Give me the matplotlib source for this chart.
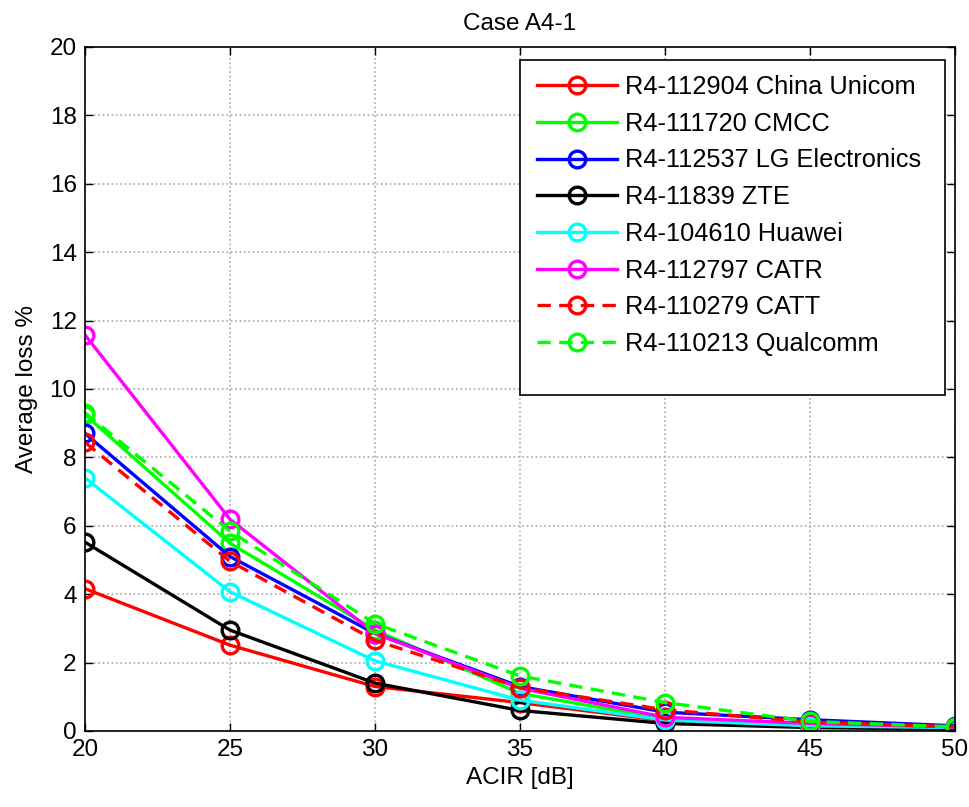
import matplotlib
matplotlib.use('Agg')
import matplotlib.pyplot as plt
from matplotlib.patches import Rectangle

plt.rcParams['font.family'] = ['Liberation Sans', 'DejaVu Sans']

acir = [20, 25, 30, 35, 40, 45, 50]

unicom = [4.16, 2.51, 1.30, 0.83, 0.30, 0.15, 0.08]
cmcc = [9.25, 5.49, 2.95, 1.10, 0.35, 0.20, 0.10]
lg = [8.70, 5.10, 2.85, 1.30, 0.55, 0.33, 0.15]
zte = [5.52, 2.95, 1.40, 0.60, 0.22, 0.10, 0.05]
huawei = [7.40, 4.07, 2.05, 0.90, 0.32, 0.15, 0.10]
catr = [11.58, 6.19, 2.85, 1.25, 0.40, 0.22, 0.12]
catt = [8.44, 4.96, 2.65, 1.27, 0.62, 0.26, 0.12]
qualcomm = [9.30, 5.84, 3.14, 1.61, 0.83, 0.28, 0.12]

series = [
    (unicom, '#ff0000', '-', 'R4-112904 China Unicom'),
    (cmcc, '#00ff00', '-', 'R4-111720 CMCC'),
    (lg, '#0000ff', '-', 'R4-112537 LG Electronics'),
    (zte, '#000000', '-', 'R4-11839 ZTE'),
    (huawei, '#00ffff', '-', 'R4-104610 Huawei'),
    (catr, '#ff00ff', '-', 'R4-112797 CATR'),
    (catt, '#ff0000', '--', 'R4-110279 CATT'),
    (qualcomm, '#00ff00', '--', 'R4-110213 Qualcomm'),
]

W, H = 970, 807
fig = plt.figure(figsize=(W / 100, H / 100), dpi=100)
ax = fig.add_axes([0.0876, 0.0942, 0.897, 0.8476])

for vals, col, ls, lab in series:
    line, = ax.plot(acir, vals, color=col, linestyle=ls, linewidth=2.4,
                    marker='o', markersize=12, markerfacecolor='none',
                    markeredgewidth=2.4, label=lab)
    if ls == '--':
        line.set_dashes((4, 2.5))

ax.set_xlim(20, 50)
ax.set_ylim(0, 20)
ax.set_xticks(range(20, 51, 5))
ax.set_yticks(range(0, 21, 2))
ax.grid(True, color='#a8a8a8', linestyle=':', linewidth=1.2)
ax.tick_params(direction='in', top=True, right=True, labelsize=17.5,
               length=6, width=1, pad=6)
for s in ax.spines.values():
    s.set_linewidth(1.2)

ax.set_xlabel('ACIR [dB]', fontsize=17.5, labelpad=4)
ax.set_ylabel('Average loss %', fontsize=17.5, labelpad=8)
ax.set_title('Case A4-1', fontsize=17.5, pad=12)

# legend box drawn separately (MATLAB style leaves extra room at the bottom)
ax.legend(loc='upper left', bbox_to_anchor=(537 / W, 1 - 75 / H),
          bbox_transform=fig.transFigure, fontsize=18.3, frameon=False,
          handlelength=3.15, labelspacing=0.50, handletextpad=0.32,
          borderpad=0, borderaxespad=0)
frame = Rectangle((520 / W, 1 - 395 / H), 425 / W, 335 / H,
                  transform=fig.transFigure, facecolor='white',
                  edgecolor='black', linewidth=1.2, zorder=4)
ax.add_artist(frame)
frame.set_clip_on(False)
ax.get_legend().set_zorder(5)

fig.savefig('out.png', dpi=100)
